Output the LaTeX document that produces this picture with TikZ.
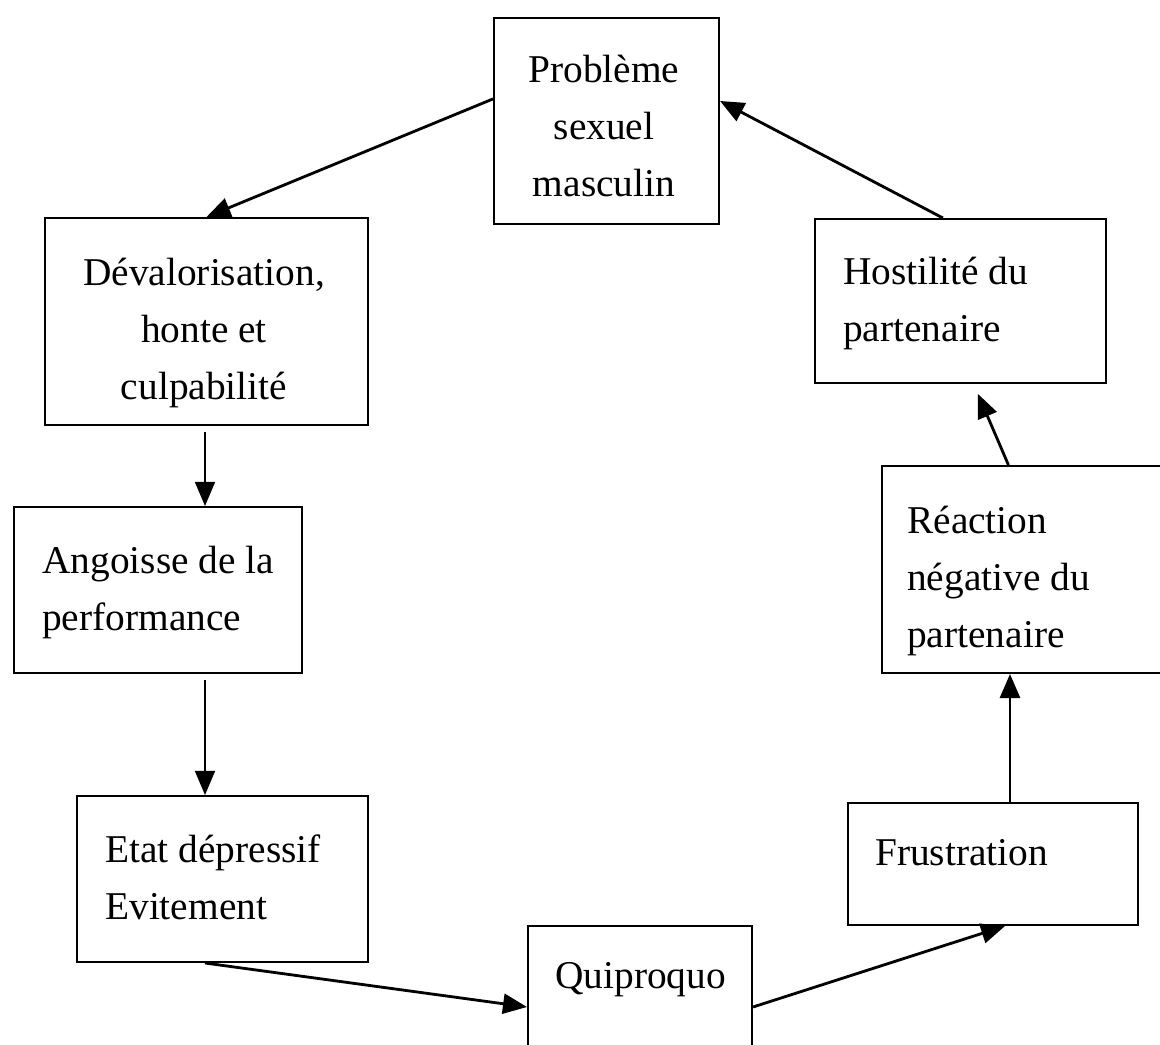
\documentclass[tikz,border=0pt]{standalone}
\usepackage{fontspec}
\setmainfont{Liberation Serif}
\usetikzlibrary{positioning, calc, arrows.meta}

\begin{document}
\begin{tikzpicture}[
  x=0.025cm, y=-0.025cm,
  font=\fontsize{28}{40.5}\selectfont,
  >={Triangle[length=0.6cm,width=0.5cm]},
  box/.style={draw=black, line width=1.4pt, inner sep=0pt},
  lbl/.style={inner sep=0pt, anchor=base west, align=left},
  lblc/.style={inner sep=0pt, anchor=base, align=center},
  thinarr/.style={->, line width=1pt},
  thickarr/.style={->, line width=2pt},
]
% ---------------- page frame ----------------
\useasboundingbox (0,0) rectangle (1160,1045);
\clip (0,0) rectangle (1160,1045);

% =====================================================================
% Boxes of the cycle
% =====================================================================
\node[box, minimum width=5.625cm, minimum height=5.15cm]  (prob) at (606.5,121)  {};
\node[box, minimum width=8.075cm, minimum height=5.175cm] (deva) at (206.5,321.5) {};
\node[box, minimum width=7.2cm,   minimum height=4.15cm]  (ang)  at (158,590)    {};
\node[box, minimum width=7.275cm, minimum height=4.15cm]  (etat) at (222.5,879)  {};
\node[box, minimum width=5.6cm,   minimum height=4.05cm]  (qui)  at (640,1007)   {};
\node[box, minimum width=7.25cm,  minimum height=3.05cm]  (fru)  at (993,864)    {};
\node[box, minimum width=7.15cm,  minimum height=5.175cm] (rea)  at (1025,569.5) {};
\node[box, minimum width=7.275cm, minimum height=4.1cm]   (hos)  at (960.5,301)  {};

% =====================================================================
% Texts (placed at the baseline of their last line)
% =====================================================================
\node[lblc] (probT) at (604,196) {Problème\\sexuel\\masculin};
\node[lblc] (devaT) at (204,399) {Dévalorisation,\\honte et\\culpabilité};
\node[lbl]  (angT)  at (42,630)  {Angoisse de la\\performance};
\node[lbl]  (etatT) at (105,919) {Etat dépressif\\Evitement};
\node[lbl]  (quiT)  at (555,988) {Quiproquo};
\node[lbl]  (fruT)  at (875,865) {Frustration};
\node[lbl]  (reaT)  at (907,647) {Réaction\\négative du\\partenaire};
\node[lbl]  (hosT)  at (843,341) {Hostilité du\\partenaire};

% =====================================================================
% Connectors
% =====================================================================
\coordinate (colL) at (205,0);
\coordinate (colR) at (1010,0);

\draw[thickarr] (prob.169) -- (deva.north);
\draw[thinarr, shorten <=0.15cm] (colL |- deva.south) -- (colL |- ang.north);
\draw[thinarr, shorten <=0.15cm] (colL |- ang.south) -- (colL |- etat.north);
\draw[thickarr] (colL |- etat.south) -- (qui.west);
\draw[thickarr] (qui.east) -- (fru.-79);
\draw[thickarr] (colR |- fru.north) -- (colR |- rea.south);
\draw[thickarr, shorten >=0.27cm] (rea.99) -- (hos.-81);
\draw[thickarr] (hos.102) -- (prob.10);

\end{tikzpicture}
\end{document}
